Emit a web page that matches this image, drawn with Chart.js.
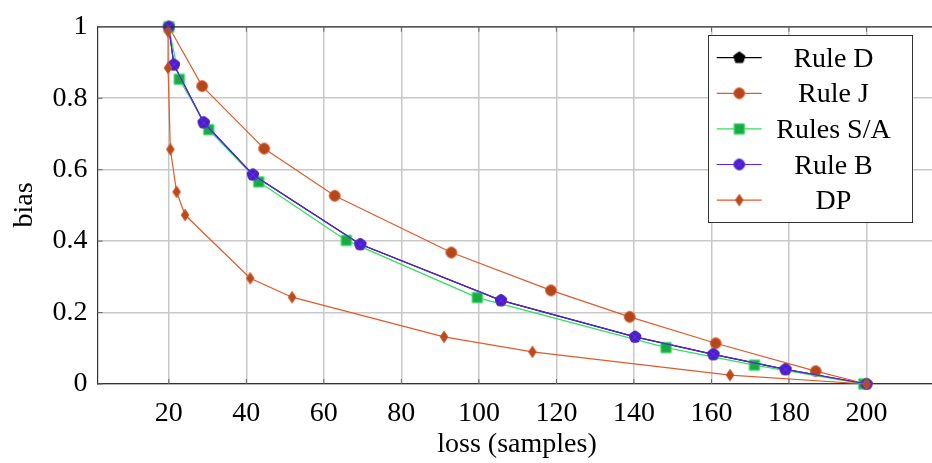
<!DOCTYPE html>
<html>
<head>
<meta charset="utf-8">
<script src="https://cdn.jsdelivr.net/npm/chart.js@4.4.1/dist/chart.umd.min.js"></script>
<style>
  html, body { margin: 0; padding: 0; overflow: hidden; background: #fff; }
  #myChart { position: absolute; left: 0; top: 0; }
</style>
</head>
<body>
<canvas id="myChart" width="945" height="463"></canvas>
<script>
// values
const xTicks = [20, 40, 60, 80, 100, 120, 140, 160, 180, 200];
const yTicks = [0, 0.2, 0.4, 0.6, 0.8, 1];

const ruleBLoss = [20, 21.3, 29.0, 41.7, 69.4, 105.7, 140.3, 160.5, 179.1, 200];
const ruleBBias = [1, 0.894, 0.732, 0.586, 0.391, 0.234, 0.132, 0.083, 0.041, 0];

// Rule D sits under Rule B everywhere
const ruleDLoss = [20, 21.3, 29.0, 41.7, 69.4, 105.7, 140.3, 160.5, 179.1, 200];
const ruleDBias = [1, 0.894, 0.732, 0.586, 0.391, 0.234, 0.132, 0.083, 0.041, 0];

const ruleJLoss = [20, 28.6, 44.6, 62.8, 92.9, 118.6, 138.9, 161.1, 186.9, 200];
const ruleJBias = [1, 0.834, 0.659, 0.527, 0.368, 0.262, 0.188, 0.114, 0.036, 0];

const ruleSALoss = [20, 22.7, 30.3, 43.2, 65.8, 99.6, 148.3, 171.1, 199.3];
const ruleSABias = [1, 0.853, 0.712, 0.566, 0.402, 0.242, 0.102, 0.053, 0];

const dpLoss = [19.8, 19.8, 20.4, 22.0, 24.2, 41.0, 51.8, 91.0, 113.8, 164.8, 200];
const dpBias = [0.987, 0.885, 0.657, 0.538, 0.473, 0.296, 0.243, 0.132, 0.090, 0.025, 0];

const FONT = "'Liberation Serif', 'Times New Roman', serif";

function pts(xs, ys) {
  return xs.map((x, i) => ({x: x, y: ys[i]}));
}

// little canvases used as point styles (and in the legend)
function makeMarker(kind, fill, stroke) {
  const c = document.createElement('canvas');
  c.width = 16; c.height = 16;
  const g = c.getContext('2d');
  g.translate(8, 8);
  g.fillStyle = fill;
  g.strokeStyle = stroke;
  g.lineWidth = 1;
  g.beginPath();
  if (kind === 'circle' || kind === 'otimes') {
    g.arc(0, 0, 5.4, 0, Math.PI * 2);
  } else if (kind === 'square') {
    g.rect(-5.2, -5.2, 10.4, 10.4);
  } else if (kind === 'diamond') {
    g.moveTo(0, -5.8); g.lineTo(3.9, 0); g.lineTo(0, 5.8); g.lineTo(-3.9, 0);
    g.closePath();
  } else if (kind === 'pentagon') {
    for (let k = 0; k < 5; k++) {
      const a = -Math.PI / 2 + k * 2 * Math.PI / 5;
      const px = Math.cos(a) * 6, py = Math.sin(a) * 6;
      if (k === 0) g.moveTo(px, py); else g.lineTo(px, py);
    }
    g.closePath();
  }
  g.fill();
  g.stroke();
  if (kind === 'otimes') {
    g.strokeStyle = 'rgba(120,60,255,0.6)';
    g.beginPath();
    g.moveTo(-3.6, -3.6); g.lineTo(3.6, 3.6);
    g.moveTo(3.6, -3.6); g.lineTo(-3.6, 3.6);
    g.stroke();
  }
  return c;
}

const markD = makeMarker('pentagon', '#000', '#000');
const markJ = makeMarker('circle', '#b5461c', '#d9602e');
const markSA = makeMarker('square', '#1ba846', '#4def74');
const markB = makeMarker('otimes', '#4a1ccc', '#5a2ae0');
const markDP = makeMarker('diamond', '#b84a1e', '#d05a28');

function series(label, data, color, mark, order) {
  return {
    label: label,
    data: data,
    borderColor: color,
    backgroundColor: color,
    borderWidth: 1.2,
    tension: 0,
    pointStyle: mark,
    pointRadius: 6,
    pointHoverRadius: 6,
    clip: false,
    order: order
  };
}

const titles = {
  id: 'titles',
  afterDraw(chart) {
    const ctx = chart.ctx;
    const a = chart.chartArea;
    ctx.save();
    // frame top + right, inner ticks
    ctx.strokeStyle = '#333';
    ctx.lineWidth = 1.2;
    ctx.beginPath();
    ctx.moveTo(a.left, a.top); ctx.lineTo(a.right, a.top); ctx.lineTo(a.right, a.bottom);
    ctx.stroke();
    ctx.strokeStyle = '#666';
    ctx.lineWidth = 1;
    const xs = chart.scales.x, ys = chart.scales.y;
    ctx.beginPath();
    xTicks.forEach(v => {
      const p = xs.getPixelForValue(v);
      ctx.moveTo(p, a.bottom); ctx.lineTo(p, a.bottom - 5);
      ctx.moveTo(p, a.top); ctx.lineTo(p, a.top + 5);
    });
    yTicks.forEach(v => {
      const p = ys.getPixelForValue(v);
      ctx.moveTo(a.left, p); ctx.lineTo(a.left + 5, p);
      ctx.moveTo(a.right, p); ctx.lineTo(a.right - 5, p);
    });
    ctx.stroke();

    // axis titles
    ctx.fillStyle = '#000';
    ctx.font = '28px ' + FONT;
    ctx.textAlign = 'center';
    ctx.textBaseline = 'alphabetic';
    ctx.fillText('loss (samples)', 517, 451.5);
    ctx.translate(31.5, 205);
    ctx.rotate(-Math.PI / 2);
    ctx.fillText('bias', 0, 0);
    ctx.restore();

    // legend box
    ctx.save();
    ctx.fillStyle = '#fff';
    ctx.fillRect(708.5, 35.5, 204, 187);
    ctx.strokeStyle = '#333';
    ctx.lineWidth = 1;
    ctx.strokeRect(708.5, 35.5, 204, 187);
    ctx.font = '28px ' + FONT;
    ctx.textAlign = 'center';
    ctx.textBaseline = 'alphabetic';
    chart.data.datasets.forEach((ds, i) => {
      const y = 57.7 + i * 35.6;
      ctx.strokeStyle = ds.borderColor;
      ctx.lineWidth = 1.2;
      ctx.beginPath();
      ctx.moveTo(716.7, y); ctx.lineTo(761.7, y);
      ctx.stroke();
      ctx.drawImage(ds.pointStyle, 739.3 - 8, y - 8);
      ctx.fillStyle = '#000';
      ctx.fillText(ds.label, 833.5, y + 9);
    });
    ctx.restore();
  }
};

const ctx = document.getElementById('myChart');
new Chart(ctx, {
  type: 'line',
  data: {
    datasets: [
      series('Rule D', pts(ruleDLoss, ruleDBias), '#000000', markD, 5),
      series('Rule J', pts(ruleJLoss, ruleJBias), '#e25a2a', markJ, 4),
      series('Rules S/A', pts(ruleSALoss, ruleSABias), '#30e060', markSA, 3),
      series('Rule B', pts(ruleBLoss, ruleBBias), '#5a22e6', markB, 2),
      series('DP', pts(dpLoss, dpBias), '#e25a2a', markDP, 1)
    ]
  },
  options: {
    responsive: false,
    animation: false,
    devicePixelRatio: 1,
    layout: { padding: { left: 0, right: 4, top: 24.5, bottom: 0 } },
    plugins: {
      legend: { display: false },
      tooltip: { enabled: false }
    },
    scales: {
      x: {
        type: 'linear',
        min: 1.6,
        max: 218.4,
        afterBuildTicks: (s) => { s.ticks = xTicks.map(v => ({value: v})); },
        afterFit: (s) => { s.height = 79; },
        grid: { color: '#c8c8c8', lineWidth: 1.5, drawTicks: false },
        border: { display: true, color: '#333', width: 1.2 },
        ticks: {
          padding: 13, color: '#000', maxRotation: 0, autoSkip: false,
          font: { family: FONT, size: 28 }
        }
      },
      y: {
        type: 'linear',
        min: 0,
        max: 1,
        afterBuildTicks: (s) => { s.ticks = yTicks.map(v => ({value: v})); },
        afterFit: (s) => { s.width = 97.5; },
        grid: { color: '#c8c8c8', lineWidth: 1.5, drawTicks: false },
        border: { display: true, color: '#333', width: 1.2 },
        ticks: {
          padding: 10, color: '#000',
          callback: (v) => String(Math.round(v * 10) / 10),
          font: { family: FONT, size: 28 }
        }
      }
    }
  },
  plugins: [titles]
});
</script>
</body>
</html>
